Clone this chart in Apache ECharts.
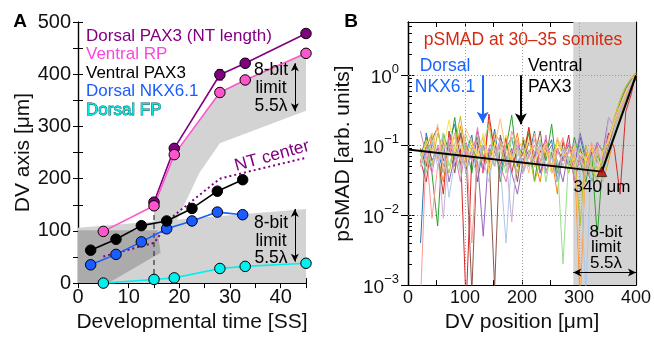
<!DOCTYPE html>
<html><head><meta charset="utf-8">
<script src="https://cdn.jsdelivr.net/npm/echarts@6/dist/echarts.min.js"></script>
<style>html,body{margin:0;padding:0;background:#fff}#c{width:654px;height:338px}</style>
</head><body><div id="c"></div>
<script>
// ---------- Panel A data ----------
const dorsalPax3X = [15, 19, 28, 33, 45];
const dorsalPax3Y = [155, 258, 399, 421, 478];
const dorsalPax3Err = [0, 0, 10, 8, 0];
const ventralRpX = [5, 15, 19, 28, 33, 45];
const ventralRpY = [99, 148, 246, 365, 389, 440];
const ventralRpErr = [0, 0, 0, 8, 0, 0];
const ventralPax3X = [2.5, 7.5, 12.5, 17.5, 22.5, 27.5, 32.5];
const ventralPax3Y = [63, 84, 110, 119, 143, 176, 198];
const nkx61X = [2.5, 7.5, 12.5, 17.5, 22.5, 27.5, 32.5];
const nkx61Y = [35, 55, 79, 104, 119, 136, 131];
const dorsalFpX = [5, 15, 19, 28, 33, 45];
const dorsalFpY = [0, 7, 10, 28, 32, 38];
const ntCenterX = [5, 15, 19, 28, 33, 45];
const ntCenterY = [51, 77, 130, 200, 212, 240];
const dashedX = [15, 15];
const dashedY = [0, 148];
const lowerBand = [[0, 0], [0, 106], [45, 142], [45, 0]];
const upperBand = [[15, 148], [19, 246], [28, 366], [33, 389], [45, 440], [45, 330], [28, 268], [24, 212], [19, 110], [16.3, 58], [15.7, 101], [15, 101]];
const overlapBand = [[0, 0], [0, 101], [15.7, 101], [16.3, 58], [6, 0]];
const limitArrowA1 = [[42.8, 421], [42.8, 329]];
const limitArrowA2 = [[42.8, 142], [42.8, 41]];

// ---------- Panel B data ----------
const dvPositions = [22,32,42,52,62,72,82,92,102,112,122,132,142,152,162,172,182,192,202,212,222,232,242,252,262,272,282,292,302,312,322,332,342,352,362,372,382,392,400];
const trace1 = [.004,.15,.06,.09,.04,.12,.2,.05,.08,.14,.03,.1,.06,.17,.04,.09,.13,.05,.11,.07,.16,.04,.08,.12,.03,.07,.1,.05,.13,.06,.03,.08,.05,.1,.17,.3,.5,.75,.95];
const trace2 = [.09,.05,.14,.07,.03,.11,.06,.19,.05,.09,.13,.04,.22,.08,.05,.1,.07,.15,.04,.18,.06,.03,.1,.07,.02,.12,.05,.09,.0006,.08,.04,.1,.03,.06,.14,.26,.45,.7,.9];
const trace3 = [.07,.13,.04,.007,.15,.08,.25,.06,.1,.04,.16,.07,.05,.12,.03,.09,.27,.05,.08,.15,.03,.11,.06,.2,.04,.09,.05,.13,.06,.03,.08,.005,.06,.11,.2,.4,.65,.88,.85];
const trace4 = [.06,.03,.11,.07,.02,.16,.05,.09,.0005,.07,.12,.04,.28,.08,.05,.13,.04,.1,.07,.18,.05,.08,.12,.04,.09,.06,.14,.03,.07,.05,.1,.04,.07,.15,.09,.02,.3,.55,1.1];
const trace5 = [.05,.09,.15,.06,.11,.03,.07,.14,.04,.1,.06,.005,.09,.05,.13,.07,.04,.02,.06,.11,.08,.04,.07,.1,.06,.03,.09,.05,.15,.07,.06,.11,.08,.25,.18,.35,.55,.8,1.0];
const trace6 = [.09,.05,.12,.18,.06,.1,.04,.15,.07,.0008,.11,.06,.08,.0009,.14,.06,.09,.03,.12,.05,.07,.16,.04,.08,.03,.11,.06,.04,.09,.05,.03,.07,.05,.1,.2,.35,.58,.85,1.05];
const trace7 = [.16,.07,.04,.1,.05,.13,.08,.03,.11,.06,.18,.04,.09,.13,.05,.03,.08,.12,.04,.07,.1,.05,.14,.04,.08,.06,.11,.03,.07,.05,.09,.04,.07,.13,.23,.38,.6,.85,1.0];
const trace8 = [.06,.11,.05,.15,.08,.04,.1,.26,.07,.12,.04,.09,.06,.15,.11,.05,.07,.04,.13,.08,.03,.06,.1,.05,.12,.07,.04,.08,.007,.1,.05,.03,.09,.11,.25,.45,.7,.92,1.1];
const trace9 = [.0006,.09,.009,.05,.12,.07,.15,.06,.1,.004,.08,.13,.04,.07,.11,.05,.16,.09,.04,.07,.12,.06,.1,.04,.08,.13,.05,.09,.07,.04,.11,.06,.04,.08,.17,.32,.52,.78,1.0];
const trace10 = [.08,.04,.12,.07,.15,.05,.1,.04,.14,.08,.06,.11,.2,.05,.09,.04,.13,.07,.1,.05,.08,.12,.03,.09,.06,.002,.07,.04,.1,.06,.03,.08,.03,.07,.15,.28,.48,.75,.95];
const trace11 = [.05,.12,.08,.2,.04,.09,.13,.06,.17,.11,.07,.14,.05,.1,.24,.08,.06,.12,.09,.04,.15,.07,.11,.05,.13,.08,.06,.1,.001,.07,.04,.09,.05,.11,.2,.33,.55,.8,1.0];
const trace12 = [.07,.1,.15,.06,.09,.23,.08,.12,.05,.1,.07,.15,.04,.11,.08,.14,.06,.09,.07,.12,.05,.1,.08,.04,.11,.07,.09,.05,.08,.06,.1,.04,.08,.12,.22,.36,.58,.82,1.05];
const trace13 = [.05,.07,.11,.05,.09,.018,.06,.1,.04,.08,.12,.06,.03,.09,.05,.004,.07,.1,.04,.08,.06,.11,.05,.07,.03,.09,.06,.08,.04,.0008,.07,.05,.03,.09,.17,.32,.5,.78,.98];
const trace14 = [.06,.09,.05,.08,.009,.11,.07,.05,.09,.06,.04,.1,.08,.05,.12,.07,.008,.09,.06,.05,.08,.1,.04,.07,.09,.05,.08,.11,.06,.04,.07,.09,.05,.25,.18,.3,.5,.8,1.0];
const traces = [trace1, trace2, trace3, trace4, trace5, trace6, trace7, trace8, trace9, trace10, trace11, trace12, trace13, trace14];
const traceColors = ['#1f77b4','#ff7f0e','#2ca02c','#d62728','#9467bd','#8c564b','#e377c2','#bcbd22','#ff9896','#98df8a','#ffbb78','#ffe14d','#aec7e8','#c5b0d5'];
const fitX = [0, 340, 400];
const fitY = [0.087, 0.042, 1.0];
const saturationStart = 290, saturationEnd = 400;
const markerX = [340], markerY = [0.042];
const gridLinesY = [1, 0.1, 0.01];
const gridLinesX = [100, 200, 300];
const nkxArrow = [[131, 1], [131, 0.21]];
const pax3Arrow = [[198, 1], [198, 0.2]];
const limitArrowB = [[290, 0.00152], [400, 0.00152]];
const majorLogTicks = [0.001, 0.01, 0.1, 1];

const FF = 'Liberation Sans, Arial, sans-serif';
const zip = (xs, ys) => xs.map((x, i) => [x, ys[i]]);
const PURPLE = '#800080', PINK = '#ff55cc', BLUE = '#1a5cff', CYAN = '#00f0f0';

function polySeries(verts, fill, z) {
  return { type: 'custom', xAxisIndex: 0, yAxisIndex: 0, silent: true, z: z,
    data: [verts[0]],
    renderItem: (p, api) => ({ type: 'polygon', shape: { points: verts.map(v => api.coord(v)) }, style: { fill: fill } }) };
}
function errSeries(xs, ys, es, color) {
  const data = xs.map((x, i) => [x, ys[i] - es[i], ys[i] + es[i]]).filter((d, i) => es[i] > 0);
  return { type: 'custom', xAxisIndex: 0, yAxisIndex: 0, silent: true, z: 3, data: data,
    renderItem: (p, api) => {
      const a = api.coord([api.value(0), api.value(1)]), b = api.coord([api.value(0), api.value(2)]);
      const st = { stroke: color, lineWidth: 1.2 };
      return { type: 'group', children: [
        { type: 'line', shape: { x1: a[0], y1: a[1], x2: b[0], y2: b[1] }, style: st },
        { type: 'line', shape: { x1: a[0] - 3, y1: a[1], x2: a[0] + 3, y2: a[1] }, style: st },
        { type: 'line', shape: { x1: b[0] - 3, y1: b[1], x2: b[0] + 3, y2: b[1] }, style: st }] };
    } };
}
function dataLine(xs, ys, color, extra) {
  return Object.assign({ type: 'line', xAxisIndex: 0, yAxisIndex: 0, data: zip(xs, ys), z: 4,
    lineStyle: { color: color, width: 1.6 }, symbol: 'circle', symbolSize: 10.5, showSymbol: true,
    itemStyle: { color: color, borderColor: '#000', borderWidth: 1 } }, extra || {});
}
const axisLineStyle = { show: true, lineStyle: { color: '#000', width: 1.2 } };
function xAx(grid, pos, min, max, interval, labelStep, showLabel, fs) {
  return { type: 'value', gridIndex: grid, position: pos, min: min, max: max, interval: interval,
    axisLine: axisLineStyle, splitLine: { show: false },
    axisTick: { show: true, inside: true, length: 5, lineStyle: { color: '#000' } },
    axisLabel: { show: showLabel, margin: 4, fontSize: fs, fontFamily: FF, color: '#111',
      formatter: v => (v % labelStep === 0 ? String(v) : '') } };
}
function yAx(grid, pos, showLabel) {
  return { type: 'value', gridIndex: grid, position: pos, min: 0, max: 500, interval: 50,
    axisLine: axisLineStyle, splitLine: { show: false },
    axisTick: { show: true, inside: true, length: 5, lineStyle: { color: '#000' } },
    axisLabel: { show: showLabel, margin: 7, fontSize: 20, fontFamily: FF, color: '#111',
      formatter: v => (v % 100 === 0 ? String(v) : '') } };
}
const minorLogTicks = [];
[0.001, 0.01, 0.1, 1].forEach(d => { for (let k = 2; k <= 9; k++) { if (d * k < 5.8) minorLogTicks.push(+(d * k).toPrecision(3)); } });
function logAx(pos, major, showLabel) {
  return { type: 'log', logBase: 10, gridIndex: 1, position: pos, min: 0.001, max: 5.8,
    axisLine: axisLineStyle, splitLine: { show: false },
    axisTick: { show: true, inside: true, length: major ? 7 : 4, customValues: major ? majorLogTicks : minorLogTicks, lineStyle: { color: '#000' } },
    axisLabel: { show: showLabel, margin: 9, customValues: majorLogTicks, fontFamily: FF, color: '#111',
      formatter: v => { const e = Math.round(Math.log10(v)); return '{b|10}{e|' + (e < 0 ? '\u2212' + (-e) : e) + '}'; },
      rich: { b: { fontSize: 19, fontFamily: FF, color: '#111', lineHeight: 24, verticalAlign: 'bottom' },
              e: { fontSize: 13, fontFamily: FF, color: '#111', lineHeight: 14, verticalAlign: 'top' } } } };
}

const series = [
  polySeries(lowerBand, '#d3d3d3', 1),
  polySeries(upperBand, '#d3d3d3', 1),
  polySeries(overlapBand, '#ababab', 1),
  { type: 'line', xAxisIndex: 0, yAxisIndex: 0, data: zip(dashedX, dashedY), z: 2, symbol: 'none', silent: true,
    lineStyle: { color: '#333', width: 1.2, type: [5, 4] },
    markLine: { silent: true, symbol: ['arrow', 'arrow'], symbolSize: [6, 8], label: { show: false },
      lineStyle: { color: '#000', width: 1, type: 'solid' }, animation: false,
      data: [[{ coord: limitArrowA1[0] }, { coord: limitArrowA1[1] }], [{ coord: limitArrowA2[0] }, { coord: limitArrowA2[1] }]] } },
  { type: 'line', xAxisIndex: 0, yAxisIndex: 0, data: zip(ntCenterX, ntCenterY), z: 3, symbol: 'none',
    lineStyle: { color: PURPLE, width: 2, type: [2, 3] } },
  errSeries(dorsalPax3X, dorsalPax3Y, dorsalPax3Err, PURPLE),
  errSeries(ventralRpX, ventralRpY, ventralRpErr, PINK),
  dataLine(dorsalFpX, dorsalFpY, CYAN),
  dataLine(nkx61X, nkx61Y, BLUE),
  dataLine(ventralPax3X, ventralPax3Y, '#000'),
  dataLine(dorsalPax3X, dorsalPax3Y, PURPLE),
  dataLine(ventralRpX, ventralRpY, PINK),
  // Panel B background: saturation region and dotted grid
  { type: 'line', xAxisIndex: 2, yAxisIndex: 2, data: [[0, 0.1]], symbol: 'none', z: 1, silent: true,
    lineStyle: { opacity: 0 },
    markArea: { silent: true, itemStyle: { color: '#d3d3d3' }, data: [[{ xAxis: saturationStart }, { xAxis: saturationEnd }]] },
    markLine: { silent: true, symbol: 'none', label: { show: false }, animation: false,
      lineStyle: { color: '#999', width: 1, type: [1, 2] },
      data: gridLinesY.map(v => ({ yAxis: v })).concat(gridLinesX.map(v => ({ xAxis: v }))) } }
];
traces.forEach((t, i) => series.push({ type: 'line', xAxisIndex: 2, yAxisIndex: 2, z: 2, symbol: 'none', silent: true,
  data: zip(dvPositions, t), clip: true, lineStyle: { color: traceColors[i], width: 1 } }));
series.push({ type: 'line', xAxisIndex: 2, yAxisIndex: 2, z: 5, symbol: 'none', silent: true,
  data: zip(fitX, fitY), lineStyle: { color: '#000', width: 2 },
  markLine: { silent: true, symbol: ['none', 'arrow'], symbolSize: [9, 11], label: { show: false }, animation: false,
    data: [[{ coord: nkxArrow[0], lineStyle: { color: '#1a66ff', width: 2, type: 'solid' } }, { coord: nkxArrow[1] }],
           [{ coord: pax3Arrow[0], lineStyle: { color: '#000', width: 2, type: 'solid' } }, { coord: pax3Arrow[1] }]] } });
series.push({ type: 'line', xAxisIndex: 2, yAxisIndex: 2, z: 5, symbol: 'none', silent: true, data: [],
  lineStyle: { opacity: 0 },
  markLine: { silent: true, symbol: ['arrow', 'arrow'], symbolSize: [6, 8], label: { show: false }, animation: false,
    lineStyle: { color: '#000', width: 1, type: 'solid' },
    data: [[{ coord: limitArrowB[0] }, { coord: limitArrowB[1] }]] } });
series.push({ type: 'scatter', xAxisIndex: 2, yAxisIndex: 2, z: 6, silent: true, data: zip(markerX, markerY),
  symbol: 'triangle', symbolSize: 10, itemStyle: { color: '#c00000', borderColor: '#000', borderWidth: 0.8 } });

function txt(text, x, y, color, size, extra) {
  return Object.assign({ type: 'text', x: x, y: y, z: 100, silent: true,
    style: Object.assign({ text: text, fill: color, font: size + 'px ' + FF, align: 'left', verticalAlign: 'middle' }, extra || {}) });
}
const graphics = [
  txt('A', 20, 22, '#000', 19, { font: 'bold 19px ' + FF, align: 'center' }),
  txt('B', 351, 22, '#000', 19, { font: 'bold 19px ' + FF, align: 'center' }),
  txt('Dorsal PAX3 (NT length)', 86, 36, PURPLE, 17),
  txt('Ventral RP', 86, 54.5, '#ff44dd', 17),
  txt('Ventral PAX3', 86, 73, '#000', 17),
  txt('Dorsal NKX6.1', 86, 91.5, BLUE, 17),
  txt('Dorsal FP', 86, 110, '#00e8e8', 17, { stroke: '#0a5050', lineWidth: 0.8 }),
  txt('8-bit', 271, 70, '#000', 17.5, { align: 'center' }),
  txt('limit', 271, 88, '#000', 17.5, { align: 'center' }),
  txt('5.5\u03bb', 271, 106, '#000', 17.5, { align: 'center' }),
  txt('8-bit', 271, 223, '#000', 17.5, { align: 'center' }),
  txt('limit', 271, 241, '#000', 17.5, { align: 'center' }),
  txt('5.5\u03bb', 271, 258, '#000', 17.5, { align: 'center' }),
  Object.assign(txt('NT center', 272, 156, PURPLE, 17.5, { align: 'center' }), { rotation: 0.27 }),
  txt('pSMAD at 30\u201335 somites', 523, 40, '#d42a10', 17.5, { align: 'center' }),
  txt('Dorsal', 445, 66.5, '#1a66ff', 17.5, { align: 'center' }),
  txt('NKX6.1', 445, 87.5, '#1a66ff', 17.5, { align: 'center' }),
  txt('Ventral', 528, 66.5, '#000', 17.5),
  txt('PAX3', 528, 87.5, '#000', 17.5),
  txt('340 \u03bcm', 602, 187, '#000', 17, { align: 'center' }),
  txt('8-bit', 606, 232, '#000', 17, { align: 'center' }),
  txt('limit', 606, 247, '#000', 17, { align: 'center' }),
  txt('5.5\u03bb', 606, 263, '#000', 17, { align: 'center' })
];

const option = {
  animation: false,
  backgroundColor: '#fff',
  grid: [{ left: 78, top: 22, width: 228, height: 266 }, { left: 408, top: 22, width: 228, height: 266 }],
  xAxis: [
    Object.assign(xAx(0, 'bottom', 0, 45, 5, 10, true, 20), { name: 'Developmental time [SS]', nameLocation: 'middle', nameGap: 21, nameTextStyle: { fontSize: 21, fontFamily: FF, color: '#111' } }),
    xAx(0, 'top', 0, 45, 5, 10, false, 20),
    Object.assign(xAx(1, 'bottom', 0, 400, 50, 100, true, 18), { name: 'DV position [\u03bcm]', nameLocation: 'middle', nameGap: 22, nameTextStyle: { fontSize: 21, fontFamily: FF, color: '#111' } }),
    xAx(1, 'top', 0, 400, 50, 100, false, 18)
  ],
  yAxis: [
    Object.assign(yAx(0, 'left', true), { name: 'DV axis [\u03bcm]', nameLocation: 'middle', nameGap: 40, nameTextStyle: { fontSize: 21, fontFamily: FF, color: '#111' } }),
    yAx(0, 'right', false),
    Object.assign(logAx('left', true, true), { name: 'pSMAD [arb. units]', nameLocation: 'middle', nameGap: 54, nameTextStyle: { fontSize: 21, fontFamily: FF, color: '#111' } }),
    logAx('right', true, false),
    logAx('left', false, false),
    logAx('right', false, false)
  ],
  series: series,
  graphic: graphics
};
const chart = echarts.init(document.getElementById('c'), null, { renderer: 'canvas' });
chart.setOption(option);
</script></body></html>
